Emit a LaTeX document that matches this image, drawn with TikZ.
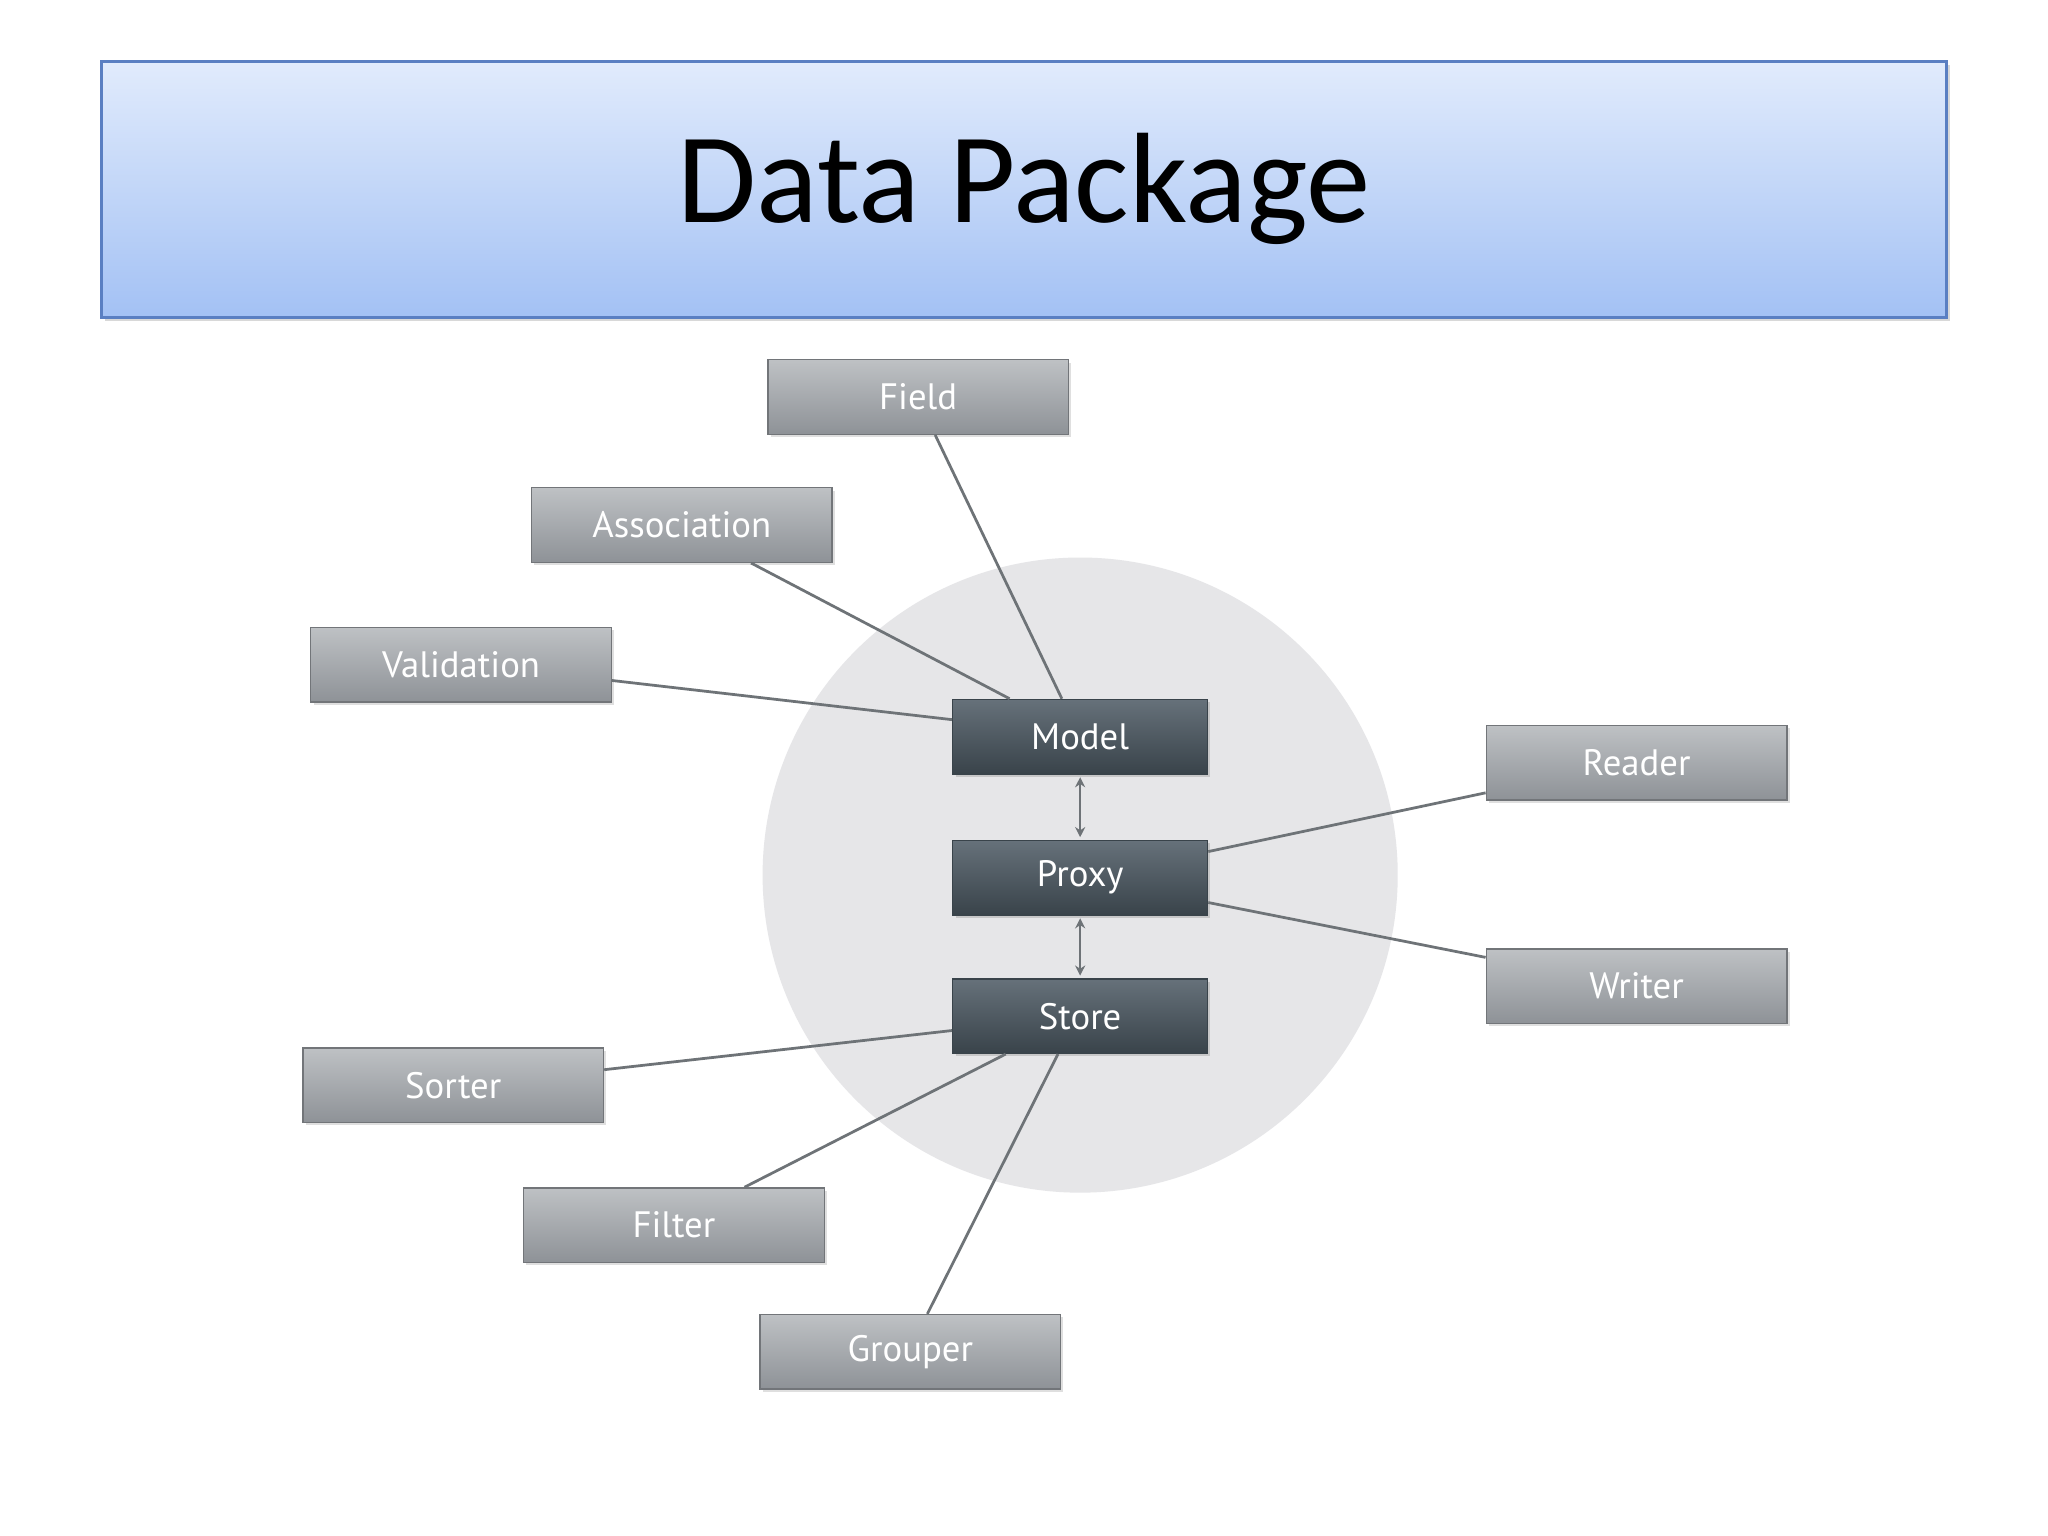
\documentclass[tikz,border=0pt]{standalone}
\usepackage{fontspec}
\setmainfont{Carlito}
\newfontfamily\boxfont{PT Sans}
\usetikzlibrary{shadows,arrows.meta}
\definecolor{tbTop}{HTML}{E1EBFC}
\definecolor{tbBot}{HTML}{A3C1F4}
\definecolor{tbEdge}{HTML}{5A7FC2}
\definecolor{gTop}{HTML}{BEC1C4}
\definecolor{gBot}{HTML}{8E9297}
\definecolor{dTop}{HTML}{66717A}
\definecolor{dBot}{HTML}{39434A}
\definecolor{circ}{HTML}{E6E6E8}
\definecolor{lineC}{HTML}{6E7377}
\tikzset{
  graybox/.style={minimum width=2.30cm,minimum height=0.57cm,top color=gTop,bottom color=gBot,
    draw=gBot!80!black,line width=0.3pt,text=white,font=\boxfont\fontsize{8}{9}\selectfont,
    drop shadow={opacity=0.25,shadow xshift=0.6pt,shadow yshift=-0.6pt}},
  darkbox/.style={minimum width=1.95cm,minimum height=0.57cm,top color=dTop,bottom color=dBot,
    draw=dBot,line width=0.3pt,text=white,font=\boxfont\fontsize{8}{9}\selectfont,
    drop shadow={opacity=0.3,shadow xshift=0.6pt,shadow yshift=-0.6pt}},
  conn/.style={draw=lineC,line width=0.6pt},
  biarrow/.style={draw=lineC,line width=0.5pt,{Stealth[length=2.2pt,width=2.2pt]}-{Stealth[length=2.2pt,width=2.2pt]}}
}
\begin{document}
\begin{tikzpicture}[x=0.01cm,y=-0.01cm]
\useasboundingbox[fill=white] (0,0) rectangle (1568,1176);
\node[minimum width=14.12cm,minimum height=1.96cm,top color=tbTop,bottom color=tbBot,draw=tbEdge,line width=0.6pt,
  drop shadow={opacity=0.3,shadow xshift=0.8pt,shadow yshift=-0.8pt},
  font=\fontsize{28}{32}\selectfont] (title) at (784,145) {Data Package};
\fill[circ] (827,670) circle (2.43cm);
\node[graybox] (field) at (703,304) {Field};
\node[graybox] (assoc) at (522,402) {Association};
\node[graybox] (valid) at (353,509) {Validation};
\node[graybox] (reader) at (1253,584) {Reader};
\node[graybox] (writer) at (1253,755) {Writer};
\node[graybox] (sorter) at (347,831) {Sorter};
\node[graybox] (filter) at (516,938) {Filter};
\node[graybox] (grouper) at (697,1035) {Grouper};
\node[darkbox] (model) at (827,564) {Model};
\node[darkbox] (proxy) at (827,672) {Proxy};
\node[darkbox] (store) at (827,778) {Store};
\draw[conn] ([xshift=0.13cm]field.south) -- ([xshift=-0.14cm]model.north);
\draw[conn] ([xshift=0.53cm]assoc.south) -- ([xshift=-0.54cm]model.north);
\draw[conn] ([yshift=-0.12cm]valid.east) -- ([yshift=0.13cm]model.west);
\draw[conn] ([yshift=-0.23cm]reader.west) -- ([yshift=0.20cm]proxy.east);
\draw[conn] ([yshift=0.22cm]writer.west) -- ([yshift=-0.19cm]proxy.east);
\draw[conn] ([yshift=0.12cm]sorter.east) -- ([yshift=-0.11cm]store.west);
\draw[conn] ([xshift=0.54cm]filter.north) -- ([xshift=-0.57cm]store.south);
\draw[conn] ([xshift=0.13cm]grouper.north) -- ([xshift=-0.17cm]store.south);
\draw[biarrow] ([yshift=-0.02cm]model.south) -- ([yshift=0.02cm]proxy.north);
\draw[biarrow] ([yshift=-0.02cm]proxy.south) -- ([yshift=0.02cm]store.north);
\end{tikzpicture}
\end{document}
